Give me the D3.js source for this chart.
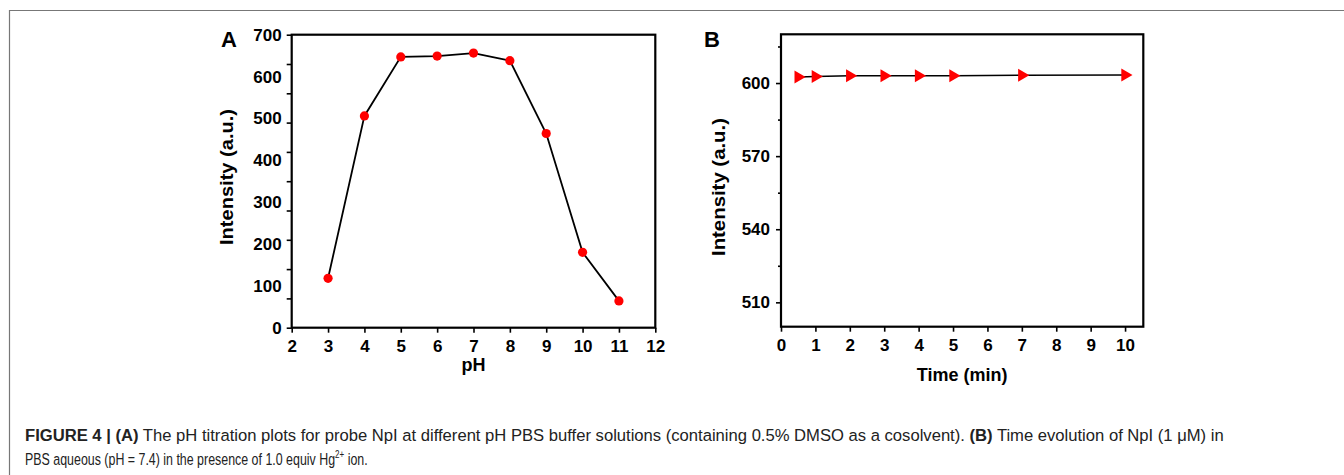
<!DOCTYPE html>
<html>
<head>
<meta charset="utf-8">
<script src="https://cdn.jsdelivr.net/npm/d3@7"></script>
<style>
  body { margin: 0; background: #fff; }
  svg text { font-family: "Liberation Sans", Arial, sans-serif; }
</style>
</head>
<body>
<script>
// Panel A: pH titration
const phValues = [3, 4, 5, 6, 7, 8, 9, 10, 11];
const phIntensity = [118, 506, 647, 649, 656, 638, 464, 180, 64];
const phTicks = [2, 3, 4, 5, 6, 7, 8, 9, 10, 11, 12];
const phYLabels = [0, 100, 200, 300, 400, 500, 600, 700];
const phYMarks = d3.range(0, 701, 70);

// Panel B: time evolution
const timeValues = [0.5, 1, 2, 3, 4, 5, 7, 10];
const timeIntensity = [602.5, 602.7, 603.0, 603.0, 603.0, 603.0, 603.2, 603.3];
const timeTicks = [0, 1, 2, 3, 4, 5, 6, 7, 8, 9, 10];
const timeYMajor = [510, 540, 570, 600];
const timeYMinor = [525, 555, 585, 615];

const W = 1344, H = 475;
const svg = d3.select("body").append("svg")
    .attr("width", W).attr("height", H);

svg.append("rect").attr("width", W).attr("height", H).attr("fill", "#fff");

// page frame (top and left rule)
svg.append("path")
    .attr("d", `M9.5,${H} V10.5 H${W}`)
    .attr("fill", "none").attr("stroke", "#777").attr("stroke-width", 1.2);

function styleAxis(g) {
    g.select(".domain").remove();
    g.selectAll("line").attr("stroke", "#000").attr("stroke-width", 1.6);
    g.selectAll("text").attr("fill", "#000")
        .style("font-size", "17px").style("font-weight", "bold");
}

// ---------- Panel A ----------
const boxA = {l: 291.7, t: 34.7, r: 655.3, b: 327.7};
const xA = d3.scaleLinear().domain([2, 12]).range([boxA.l, boxA.r]);
const yA = d3.scaleLinear().domain([0, 700]).range([boxA.b, boxA.t]);

svg.append("g").attr("transform", `translate(0,${boxA.b})`)
    .call(d3.axisBottom(xA).tickValues(phTicks).tickSize(5).tickPadding(7).tickFormat(d3.format("d")))
    .call(styleAxis);

// tick marks every 70, labels every 100 (as in the original)
svg.append("g").attr("transform", `translate(${boxA.l},0)`)
    .call(d3.axisLeft(yA).tickValues(phYMarks).tickSize(5).tickFormat(""))
    .call(styleAxis);
svg.append("g").attr("transform", `translate(${boxA.l},0)`)
    .call(d3.axisLeft(yA).tickValues(phYLabels).tickSize(0).tickPadding(10))
    .call(styleAxis);

svg.append("rect")
    .attr("x", boxA.l).attr("y", boxA.t)
    .attr("width", boxA.r - boxA.l).attr("height", boxA.b - boxA.t)
    .attr("fill", "none").attr("stroke", "#000").attr("stroke-width", 2.2);

const ptsA = phValues.map((v, i) => [v, phIntensity[i]]);
svg.append("path").datum(ptsA)
    .attr("fill", "none").attr("stroke", "#000").attr("stroke-width", 1.8)
    .attr("d", d3.line().x(d => xA(d[0])).y(d => yA(d[1])));

svg.append("g").selectAll("circle").data(ptsA).join("circle")
    .attr("cx", d => xA(d[0])).attr("cy", d => yA(d[1]))
    .attr("r", 4.6).attr("fill", "#ff0000");

svg.append("text").attr("x", (boxA.l + boxA.r) / 2).attr("y", 370.5)
    .attr("text-anchor", "middle").style("font-size", "18px").style("font-weight", "bold")
    .text("pH");
svg.append("text")
    .attr("transform", `translate(233,177) rotate(-90)`)
    .attr("text-anchor", "middle").style("font-size", "18px").style("font-weight", "bold")
    .attr("textLength", 136).attr("lengthAdjust", "spacingAndGlyphs")
    .text("Intensity (a.u.)");
svg.append("text").attr("x", 221).attr("y", 46.7)
    .style("font-size", "22px").style("font-weight", "bold").text("A");

// ---------- Panel B ----------
const boxB = {l: 781, t: 34.3, r: 1143.3, b: 326.7};
const xB = d3.scaleLinear().domain([0, 10.53]).range([boxB.l, boxB.r]);
const yB = d3.scaleLinear().domain([500, 620]).range([boxB.b, boxB.t]);

svg.append("g").attr("transform", `translate(0,${boxB.b})`)
    .call(d3.axisBottom(xB).tickValues(timeTicks).tickSize(5).tickPadding(7).tickFormat(d3.format("d")))
    .call(styleAxis);
svg.append("g").attr("transform", `translate(${boxB.l},0)`)
    .call(d3.axisLeft(yB).tickValues(timeYMinor).tickSize(3).tickFormat(""))
    .call(styleAxis);
svg.append("g").attr("transform", `translate(${boxB.l},0)`)
    .call(d3.axisLeft(yB).tickValues(timeYMajor).tickSize(5).tickPadding(6))
    .call(styleAxis);

svg.append("rect")
    .attr("x", boxB.l).attr("y", boxB.t)
    .attr("width", boxB.r - boxB.l).attr("height", boxB.b - boxB.t)
    .attr("fill", "none").attr("stroke", "#000").attr("stroke-width", 2.2);

const ptsB = timeValues.map((v, i) => [v, timeIntensity[i]]);
svg.append("path").datum(ptsB)
    .attr("fill", "none").attr("stroke", "#000").attr("stroke-width", 1.6)
    .attr("d", d3.line().x(d => xB(d[0])).y(d => yB(d[1])));

const tri = d3.symbol().type(d3.symbolTriangle).size(72);
svg.append("g").selectAll("path").data(ptsB).join("path")
    .attr("transform", d => `translate(${xB(d[0])},${yB(d[1])}) rotate(90)`)
    .attr("d", tri).attr("fill", "#ff0000");

svg.append("text").attr("x", (boxB.l + boxB.r) / 2).attr("y", 381)
    .attr("text-anchor", "middle").style("font-size", "18px").style("font-weight", "bold")
    .text("Time (min)");
svg.append("text")
    .attr("transform", `translate(725,187) rotate(-90)`)
    .attr("text-anchor", "middle").style("font-size", "18px").style("font-weight", "bold")
    .attr("textLength", 138).attr("lengthAdjust", "spacingAndGlyphs")
    .text("Intensity (a.u.)");
svg.append("text").attr("x", 704).attr("y", 46.7)
    .style("font-size", "22px").style("font-weight", "bold").text("B");

// ---------- Caption ----------
// condensed look: draw at natural width, then squeeze horizontally to fit
function fitLine(text, x, y, width) {
    const w = text.node().getBBox().width;
    text.attr("transform", `translate(${x},${y}) scale(${width / w},1)`);
}
const cap = svg.append("g")
    .style("font-family", "'Liberation Sans Narrow', 'Liberation Sans', sans-serif")
    .style("font-size", "17px").attr("fill", "#222");

const line1 = cap.append("text");
line1.append("tspan").style("font-weight", "bold").text("FIGURE 4 | (A)");
line1.append("tspan").text(" The pH titration plots for probe NpI at different pH PBS buffer solutions (containing 0.5% DMSO as a cosolvent). ");
line1.append("tspan").style("font-weight", "bold").text("(B)");
line1.append("tspan").text(" Time evolution of NpI (1 \u03bcM) in");
fitLine(line1, 25, 441, 1200);

const line2 = cap.append("text");
line2.append("tspan").text("PBS aqueous (pH = 7.4) in the presence of 1.0 equiv Hg");
line2.append("tspan").attr("dy", -7).style("font-size", "11px").text("2+");
line2.append("tspan").attr("dy", 7).text(" ion.");
fitLine(line2, 25, 465, 343);
</script>
</body>
</html>
